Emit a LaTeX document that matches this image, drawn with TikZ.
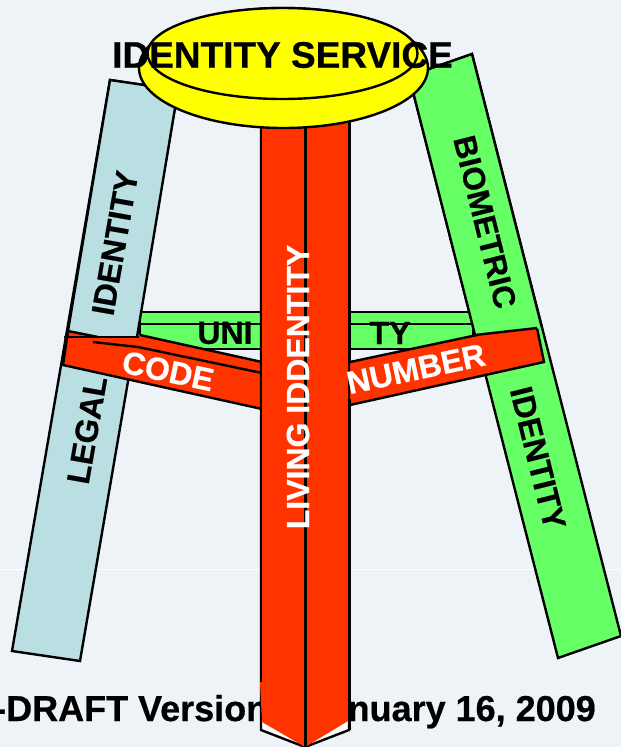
\documentclass[tikz,border=0pt]{standalone}
\usepackage{fontspec}
\setmainfont[BoldFeatures={FakeBold=0.6}]{Liberation Sans}
\definecolor{bgc}{HTML}{EEF3F7}
\definecolor{legblue}{HTML}{B9DFE3}
\definecolor{leggreen}{HTML}{66FF66}
\definecolor{hotred}{HTML}{FF3300}
\definecolor{seat}{HTML}{FFFF00}
\tikzset{
  edge/.style={draw=black,line width=2.4pt,line join=miter},
  lbl/.style={inner sep=0pt,font=\fontsize{#1}{#1}\selectfont\bfseries},
}
\begin{document}
\begin{tikzpicture}[x=1pt,y=-1pt]
\useasboundingbox (0,0) rectangle (621,747);
\clip (0,0) rectangle (621,747);
\fill[bgc] (0,0) rectangle (621,747);
\draw[white,line width=0.8pt] (0,569) -- (621,569);
\node[lbl=36,anchor=base west] (draftl) at (-6,721) {-DRAFT Version};
\node[lbl=36,anchor=base east] (draftr) at (596,721) {January 16, 2009};
% legs
\draw[edge,fill=legblue] (110,80) -- (178,90) -- (80,661) -- (12,651) -- cycle;
\draw[edge,fill=leggreen] (409,76) -- (472,54) -- (621,636) -- (558,658) -- cycle;
% cross bar
\draw[edge,fill=leggreen] (140,312) rectangle (473,349);
\draw[edge] (140,324) -- (473,324);
% red arms
\fill[hotred] (68,331) -- (98,337) -- (140,335) -- (262,362) -- (262,409) -- (63,365) -- cycle;
\draw[edge] (68,331) -- (63,365) -- (262,409);
\draw[edge] (140,335) -- (262,362);
\draw[edge] (93,342) -- (138,347) -- (262,373);
\fill[hotred] (537,328) -- (544,362) -- (350,405) -- (350,362) -- (477,335) -- cycle;
\draw[edge] (350,362) -- (477,335);
\draw[edge] (537,328) -- (544,362) -- (350,405);
% upper pieces of the legs, over the arms
\fill[legblue] (110,80) -- (178,90) -- (137,336) -- (98,337) -- (68,331) -- cycle;
\draw[edge] (68,331) -- (110,80) -- (178,90) -- (137,337);
\draw[edge] (68,331) -- (98,337);
\draw[edge] (64,337) -- (139,337);
\fill[leggreen] (409,76) -- (472,54) -- (542,328) -- (475,335) -- cycle;
\draw[edge] (475,335) -- (409,76) -- (472,54) -- (542,328);
\draw[edge] (475,335) -- (537,328);
% post
\draw[edge,fill=white] (261,110) -- (261,730) -- (305,747) -- (349,730) -- (349,110) -- cycle;
\fill[hotred] (262,110) -- (262,682) -- (260,682) -- (262,722) -- (305,747) -- (348,721) -- (348,110) -- cycle;
\draw[edge] (261,110) -- (261,373);
\draw[edge] (261,399) -- (261,682);
\draw[edge] (349.5,110) -- (349.5,362);
\draw[edge] (349.5,399) -- (349.5,730);
\draw[edge] (305.5,110) -- (305.5,747);
% seat
\draw[edge,fill=seat] (283.5,68) ellipse [x radius=144.5,y radius=60];
\draw[edge,fill=seat] (282.5,53.5) ellipse [x radius=135,y radius=45.5];
% labels
\node[lbl=37] (title) at (282.5,55) {IDENTITY SERVICE};
\node[lbl=32,rotate=80] (idl) at (115,243) {IDENTITY};
\node[lbl=32,rotate=80] (legal) at (87,430) {LEGAL};
\node[lbl=31.5,rotate=-76] (bio) at (485,222) {BIOMETRIC};
\node[lbl=32,rotate=-76] (idr) at (538,458) {IDENTITY};
\node[lbl=32,text=white,rotate=90] (living) at (298,387) {LIVING IDDENTITY};
\node[lbl=32,text=white,rotate=-12] (code) at (168,371) {CODE};
\node[lbl=32,text=white,rotate=12] (number) at (416,369) {NUMBER};
\node[lbl=32] (uni) at (225,333) {UNI};
\node[lbl=32] (ty) at (390,333) {TY};
\end{tikzpicture}
\end{document}
